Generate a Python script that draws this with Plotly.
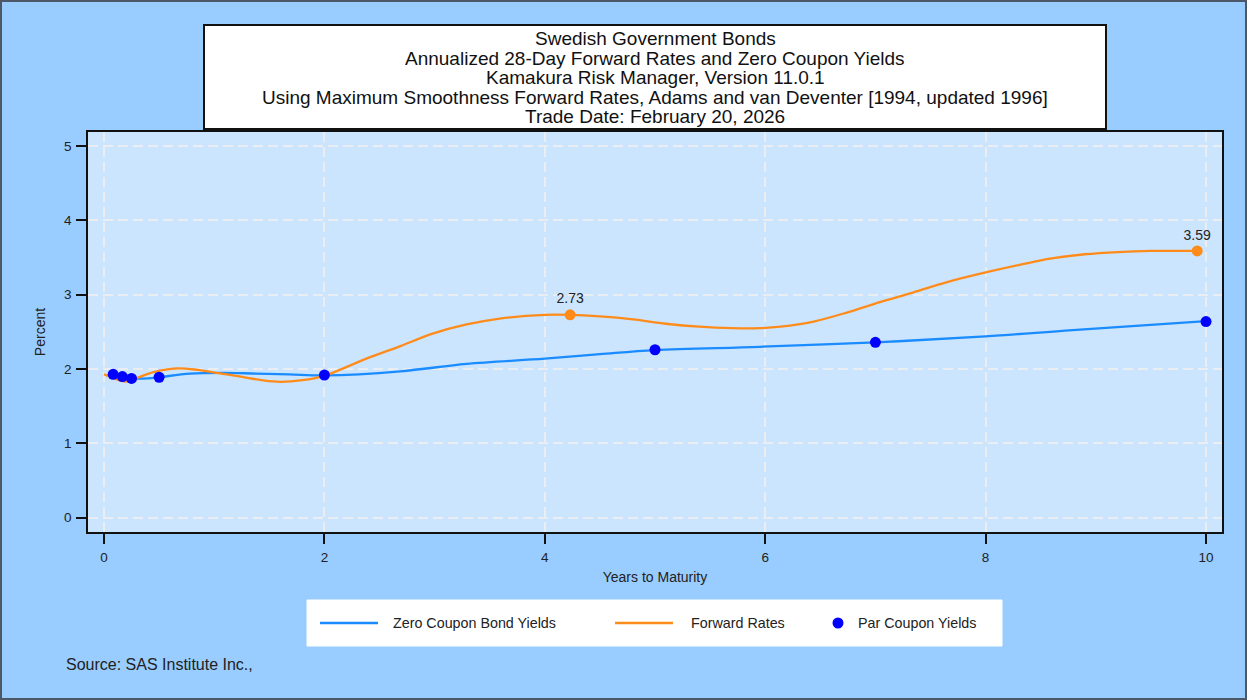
import plotly.graph_objects as go

# ---------------- data ----------------
zero_x = [0.083, 0.167, 0.25, 0.4, 0.5, 0.78, 1.08, 1.38, 1.68, 2.0, 2.69, 3.29, 4.0, 4.5, 5.0, 5.95, 7.0, 8.0, 8.79, 10.0]
zero_y = [1.93, 1.90, 1.875, 1.875, 1.89, 1.94, 1.95, 1.94, 1.93, 1.915, 1.97, 2.07, 2.14, 2.20, 2.255, 2.30, 2.36, 2.44, 2.525, 2.645]

fwd_x = [0.0, 0.08, 0.2, 0.3, 0.45, 0.66, 0.85, 1.02, 1.2, 1.35, 1.57, 1.8, 2.0, 2.38, 2.69, 2.99, 3.29, 3.59, 4.0, 4.23,
         4.5, 4.8, 5.1, 5.4, 5.7, 5.95, 6.14, 6.44, 6.74, 7.04, 7.34, 7.65, 8.0, 8.3, 8.6, 8.9, 9.2, 9.5, 9.92]
fwd_y = [1.93, 1.88, 1.83, 1.88, 1.96, 2.01, 1.99, 1.95, 1.91, 1.87, 1.83, 1.85, 1.91, 2.14, 2.31, 2.48, 2.60, 2.68, 2.73, 2.73,
         2.71, 2.67, 2.61, 2.57, 2.55, 2.55, 2.57, 2.64, 2.76, 2.90, 3.03, 3.17, 3.30, 3.40, 3.49, 3.545, 3.575, 3.59, 3.59]

fwd_label_x = [4.23, 9.92]
fwd_label_y = [2.73, 3.59]
fwd_label_text = ["2.73", "3.59"]

par_x = [0.083, 0.167, 0.25, 0.5, 2.0, 5.0, 7.0, 10.0]
par_y = [1.93, 1.90, 1.875, 1.89, 1.92, 2.26, 2.36, 2.64]

x_ticks = [0, 2, 4, 6, 8, 10]
y_ticks = [0, 1, 2, 3, 4, 5]

title_lines = [
    "Swedish Government Bonds",
    "Annualized 28-Day Forward Rates and Zero Coupon Yields",
    "Kamakura Risk Manager, Version 11.0.1",
    "Using Maximum Smoothness Forward Rates, Adams and van Deventer [1994, updated 1996]",
    "Trade Date: February 20, 2026",
]

# ---------------- styles ----------------
BLUE = "#1a8cff"
ORANGE = "#ff8c1a"
DOT = "#0000ff"
FONT = "Liberation Sans, Arial, sans-serif"
TXT = "#222222"

W, H = 1247, 700
L, R, T, B = 88, 25, 132, 168
PW, PH = W - L - R, H - T - B


def px(x):
    return (x - L) / PW


def py(y):
    return (H - B - y) / PH


fig = go.Figure()
fig.add_trace(go.Scatter(x=zero_x, y=zero_y, mode="lines", name="Zero Coupon Bond Yields",
                         line=dict(color=BLUE, width=2.3, shape="spline", smoothing=1.0),
                         showlegend=False))
fig.add_trace(go.Scatter(x=fwd_x, y=fwd_y, mode="lines", name="Forward Rates",
                         line=dict(color=ORANGE, width=2.3, shape="spline", smoothing=1.0),
                         showlegend=False))
fig.add_trace(go.Scatter(x=fwd_label_x, y=fwd_label_y, mode="markers+text", name="Forward Rates",
                         text=fwd_label_text, textposition="top center",
                         textfont=dict(size=14, color=TXT, family=FONT),
                         marker=dict(color=ORANGE, size=11), showlegend=False))
fig.add_trace(go.Scatter(x=par_x, y=par_y, mode="markers", name="Par Coupon Yields",
                         marker=dict(color=DOT, size=11), showlegend=False))

shapes = []
annotations = []

# outer border
shapes.append(dict(type="rect", xref="paper", yref="paper", x0=px(1), x1=px(W - 1), y0=py(H - 1), y1=py(1),
                   line=dict(color="#4d5866", width=2), layer="above"))
# title box
shapes.append(dict(type="rect", xref="paper", yref="paper", x0=px(204), x1=px(1106), y0=py(129), y1=py(25),
                   fillcolor="white", line=dict(color="#111111", width=2), layer="above"))
for i, t in enumerate(title_lines):
    annotations.append(dict(text=t, xref="paper", yref="paper", x=px(655), y=py(38.5 + 19.6 * i),
                            xanchor="center", yanchor="middle", showarrow=False,
                            font=dict(size=19, color="#111111", family=FONT)))

# legend box
shapes.append(dict(type="rect", xref="paper", yref="paper", x0=px(307), x1=px(1002), y0=py(646), y1=py(600),
                   fillcolor="white", line=dict(color="white", width=1), layer="above"))
shapes.append(dict(type="line", xref="paper", yref="paper", x0=px(320), x1=px(378), y0=py(623), y1=py(623),
                   line=dict(color=BLUE, width=2.3), layer="above"))
shapes.append(dict(type="line", xref="paper", yref="paper", x0=px(615), x1=px(673), y0=py(623), y1=py(623),
                   line=dict(color=ORANGE, width=2.3), layer="above"))
shapes.append(dict(type="circle", xref="paper", yref="paper", xsizemode="pixel", ysizemode="pixel",
                   xanchor=px(838), yanchor=py(623), x0=-5.5, x1=5.5, y0=-5.5, y1=5.5,
                   fillcolor=DOT, line=dict(color=DOT, width=0), layer="above"))
for xx, t in [(391, "Zero Coupon Bond Yields"), (689, "Forward Rates"), (856, "Par Coupon Yields")]:
    annotations.append(dict(text=t, xref="paper", yref="paper", x=px(xx), y=py(623),
                            xanchor="left", yanchor="middle", showarrow=False,
                            font=dict(size=14.3, color=TXT, family=FONT)))

annotations.append(dict(text="Source: SAS Institute Inc.,", xref="paper", yref="paper", x=px(64), y=py(664),
                        xanchor="left", yanchor="middle", showarrow=False,
                        font=dict(size=16, color=TXT, family=FONT)))

fig.update_layout(
    width=W, height=H,
    margin=dict(l=L, r=R, t=T, b=B),
    paper_bgcolor="#99ccff",
    plot_bgcolor="#cce5ff",
    font=dict(family=FONT, size=13, color=TXT),
    showlegend=False,
    shapes=shapes,
    annotations=annotations,
    xaxis=dict(range=[-0.145, 10.145], tickvals=x_ticks, ticktext=[str(v) for v in x_ticks],
               showgrid=True, gridcolor="#eaeef3", gridwidth=2, griddash="10px,5px",
               zeroline=False, showline=True, mirror=True, linecolor="#111111", linewidth=1.5,
               ticks="outside", ticklen=10, tickcolor="#111111", tickwidth=1.5,
               ticklabelstandoff=2,
               tickfont=dict(size=13.5, color=TXT, family=FONT),
               title=dict(text="Years to Maturity", font=dict(size=14, color=TXT, family=FONT), standoff=8)),
    yaxis=dict(range=[-0.192, 5.19], tickvals=y_ticks, ticktext=[str(v) for v in y_ticks],
               showgrid=True, gridcolor="#eaeef3", gridwidth=2, griddash="10px,5px",
               zeroline=False, showline=True, mirror=True, linecolor="#111111", linewidth=1.5,
               ticks="outside", ticklen=10, tickcolor="#111111", tickwidth=1.5,
               ticklabelstandoff=2,
               tickfont=dict(size=13.5, color=TXT, family=FONT),
               title=dict(text="Percent", font=dict(size=14, color=TXT, family=FONT), standoff=15)),
)

fig.write_html("out.html", config={"displayModeBar": False},
               post_script="document.body.style.margin='0';")
